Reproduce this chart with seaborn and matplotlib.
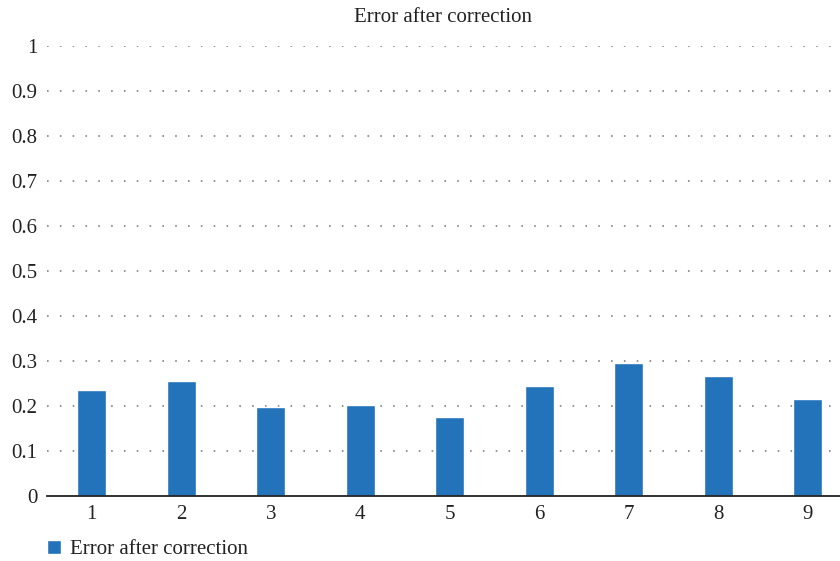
import matplotlib
matplotlib.use("Agg")
import matplotlib.pyplot as plt
import seaborn as sns
import pandas as pd

categories = ["1", "2", "3", "4", "5", "6", "7", "8", "9"]
values = [0.235, 0.255, 0.197, 0.202, 0.175, 0.244, 0.295, 0.266, 0.215]
series_name = "Error after correction"
y_ticks = [0, 0.1, 0.2, 0.3, 0.4, 0.5, 0.6, 0.7, 0.8, 0.9, 1]
y_tick_labels = ["0", "0.1", "0.2", "0.3", "0.4", "0.5", "0.6", "0.7", "0.8", "0.9", "1"]

sns.set_theme(style="white")
plt.rcParams['font.family'] = ['Liberation Serif', 'DejaVu Serif']

df = pd.DataFrame({"cat": categories, "val": values})

fig = plt.figure(figsize=(8.4, 5.61), dpi=100)
ax = fig.add_axes([47 / 840, 1 - 495.7 / 561, 1 - 47 / 840, (495.7 - 45.7) / 561])

sns.barplot(data=df, x="cat", y="val", color="#2373BB", width=0.32,
            saturation=1, label=series_name, ax=ax, zorder=3)

ax.set_ylim(0, 1)
ax.set_xlim(-0.5, 8.36)
ax.set_yticks(y_ticks)
ax.set_yticklabels(y_tick_labels)
ax.set_xlabel("")
ax.set_ylabel("")
ax.set_title(series_name, fontsize=15, color="#222222", pad=17)

for y in y_ticks[1:]:
    ax.axhline(y, color="#8a8a8a", linewidth=1.3, linestyle=(0, (0.9, 6.2)), zorder=1)

for s in ["top", "right", "left"]:
    ax.spines[s].set_visible(False)
ax.spines["bottom"].set_color("#222222")
ax.spines["bottom"].set_linewidth(1.3)
ax.spines["bottom"].set_zorder(4)

ax.tick_params(axis="both", length=0, labelsize=15, colors="#222222")
ax.tick_params(axis="y", pad=7)
ax.tick_params(axis="x", pad=7)

if ax.get_legend() is not None:
    ax.get_legend().remove()
handles, labels = ax.get_legend_handles_labels()
fig.legend(handles, labels, loc="lower left", bbox_to_anchor=(47 / 840, 2 / 561),
           frameon=False, fontsize=15, handlelength=0.65, handleheight=0.65,
           handletextpad=0.45, borderpad=0, borderaxespad=0, labelcolor="#222222")

fig.savefig("out.png", dpi=100)
